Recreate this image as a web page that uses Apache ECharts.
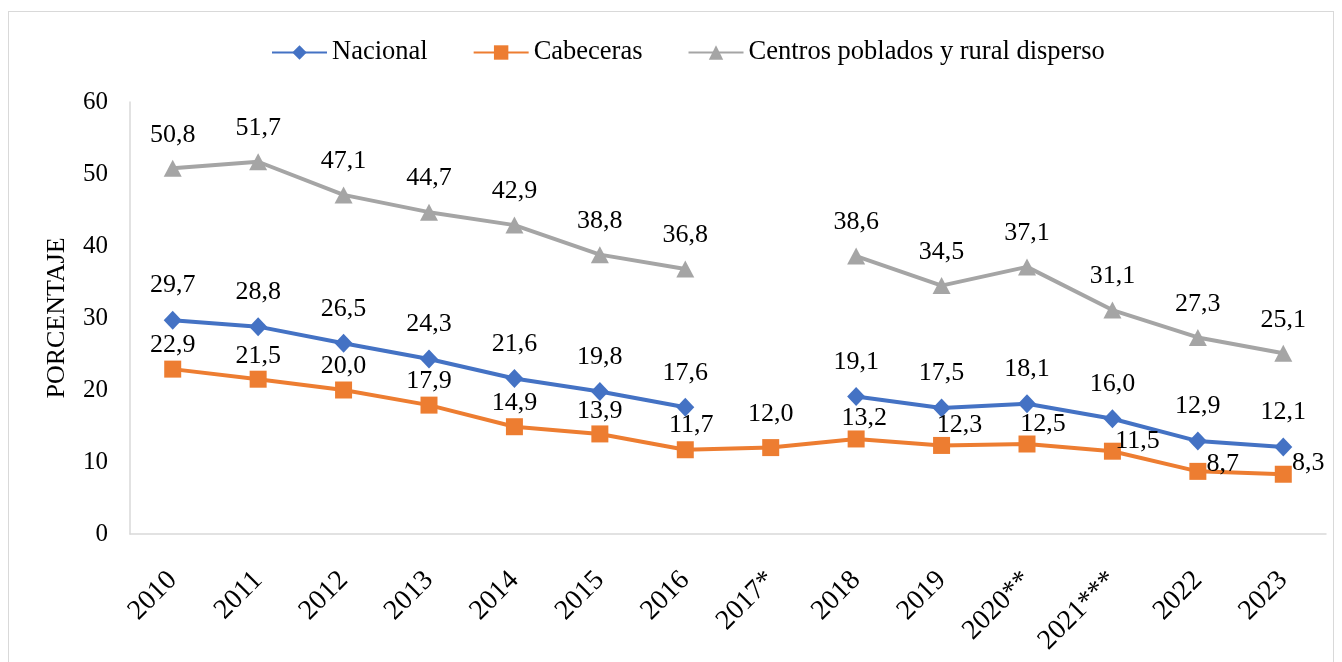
<!DOCTYPE html>
<html>
<head>
<meta charset="utf-8">
<script src="https://cdn.jsdelivr.net/npm/echarts@6/dist/echarts.min.js"></script>
<style>
  html, body { margin: 0; padding: 0; background: #fff; }
  #frame { position: absolute; left: 8px; top: 11px; width: 1326px; height: 660px; border: 1px solid #d9d9d9; box-sizing: border-box; }
  #chart { position: absolute; left: 0; top: 0; width: 1342px; height: 662px; }
</style>
</head>
<body>
<div id="frame"></div>
<div id="chart"></div>
<script>
// datos
const years = ['2010', '2011', '2012', '2013', '2014', '2015', '2016', '2017*', '2018', '2019', '2020**', '2021***', '2022', '2023'];
const nacional = [29.7, 28.8, 26.5, 24.3, 21.6, 19.8, 17.6, null, 19.1, 17.5, 18.1, 16.0, 12.9, 12.1];
const cabeceras = [22.9, 21.5, 20.0, 17.9, 14.9, 13.9, 11.7, 12.0, 13.2, 12.3, 12.5, 11.5, 8.7, 8.3];
const centros = [50.8, 51.7, 47.1, 44.7, 42.9, 38.8, 36.8, null, 38.6, 34.5, 37.1, 31.1, 27.3, 25.1];
const seriesNames = ['Nacional', 'Cabeceras', 'Centros poblados y rural disperso'];

const font = '"Liberation Serif", "Times New Roman", serif';
const fmt = function (p) {
  return p.value == null ? '' : Number(p.value).toFixed(1).replace('.', ',');
};

// desplazamiento de etiquetas de Cabeceras (para no chocar con Nacional)
const cabOffsets = [[0, 10], [0, 10], [0, 10], [0, 10], [0, 10], [0, 11], [6, 9], [0, 0], [8, 13], [18, 13], [16, 14], [25, 23], [25, 26], [25, 22]];

const chart = echarts.init(document.getElementById('chart'));

function baseSeries(name, data, color, symbol, size) {
  return {
    name: name,
    type: 'line',
    data: data,
    symbol: symbol,
    symbolSize: size,
    connectNulls: false,
    lineStyle: { color: color, width: 4 },
    itemStyle: { color: color },
    label: {
      show: true,
      position: 'top',
      distance: 12,
      color: '#000',
      fontFamily: font,
      fontSize: 26,
      formatter: fmt
    },
    z: 3
  };
}

const sNac = baseSeries(seriesNames[0], nacional, '#4472C4', 'diamond', [18, 19]);
const sCab = baseSeries(seriesNames[1], cabeceras.map(function (v, i) {
  return { value: v, label: { offset: cabOffsets[i] } };
}), '#ED7D31', 'rect', 17);
const sCen = baseSeries(seriesNames[2], centros, '#A5A5A5', 'triangle', [18, 17]);

const option = {
  animation: false,
  legend: {
    top: 34,
    left: 266,
    itemWidth: 55,
    itemHeight: 18,
    itemGap: 45,
    textStyle: { fontFamily: font, fontSize: 26.5, color: '#000' },
    data: seriesNames
  },
  grid: { left: 130, right: 16, top: 102, bottom: 128 },
  xAxis: {
    type: 'category',
    data: years,
    boundaryGap: true,
    axisLine: { lineStyle: { color: '#d9d9d9', width: 1.5 } },
    axisTick: { show: false },
    axisLabel: { rotate: 45, margin: 42, color: '#000', fontFamily: font, fontSize: 28, interval: 0 }
  },
  yAxis: {
    type: 'value',
    min: 0,
    max: 60,
    interval: 10,
    name: 'PORCENTAJE',
    nameLocation: 'middle',
    nameGap: 60,
    nameTextStyle: { color: '#000', fontFamily: font, fontSize: 26 },
    axisLine: { show: true, lineStyle: { color: '#d9d9d9', width: 1.5 } },
    axisTick: { show: false },
    splitLine: { show: false },
    axisLabel: { margin: 22, color: '#000', fontFamily: font, fontSize: 25 }
  },
  series: [sNac, sCab, sCen]
};

chart.setOption(option);
window.addEventListener('resize', function () {
  chart.resize();
});
</script>
</body>
</html>
